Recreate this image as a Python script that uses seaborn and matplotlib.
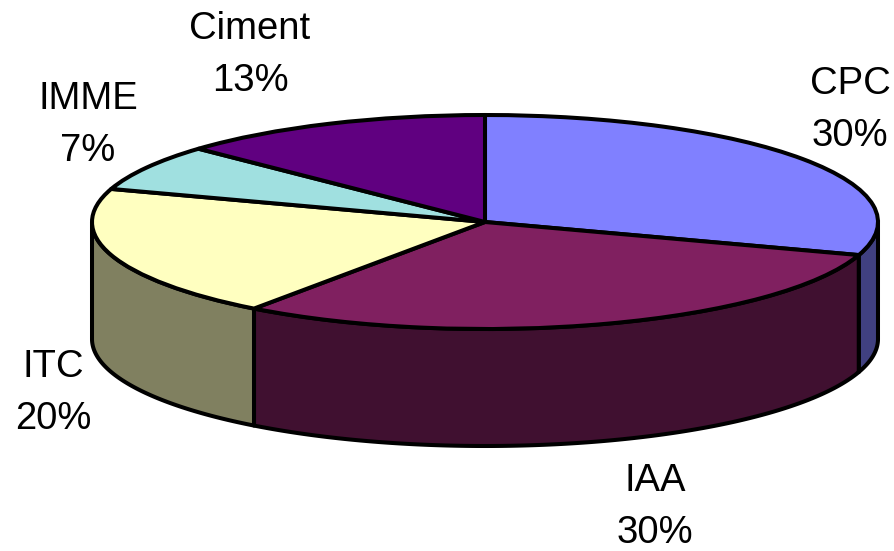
import numpy as np
import matplotlib
matplotlib.use("Agg")
import matplotlib.pyplot as plt
import seaborn as sns

categories = ["CPC", "IAA", "ITC", "IMME", "Ciment"]
shares = [30, 30, 20, 7, 13]
top_colors = ["#8080FF", "#802060", "#FFFFC0", "#A0E0E0", "#600080"]
side_colors = ["#404080", "#401030", "#808060", "#508080", "#300040"]

W, H = 895, 551
CX, CY, RX, RY = 485, 222, 393, 107
DEPTH = 117 / RY  # wall height in pie radius units

sns.set_theme(style="white")
plt.rcParams["font.family"] = ["Liberation Sans", "DejaVu Sans"]

fig = plt.figure(figsize=(W / 100, H / 100), dpi=100)
ax = fig.add_axes([0, 0, 1, 1])

# top face of the disc, flattened by the axis limits
wedges, _ = ax.pie(shares, colors=top_colors, startangle=90, counterclock=False,
                   wedgeprops=dict(edgecolor="black", linewidth=2.9, joinstyle="round", zorder=3))

ax.set_aspect("auto")
ax.set_xlim(-CX / RX, (W - CX) / RX)
ax.set_ylim((CY - H) / RY, CY / RY)

# front wall, only the part of each wedge under the horizontal
for w, col in zip(wedges, side_colors):
    t1, t2 = w.theta1 % 360, w.theta2 % 360
    if t2 <= t1:
        t2 += 360
    t = np.radians(np.linspace(t1, t2, 200))
    t = t[np.sin(t) <= 0]
    if len(t) == 0:
        continue
    x = np.cos(t)
    y = np.sin(t)
    ax.fill(np.r_[x, x[::-1]], np.r_[y, y[::-1] - DEPTH], facecolor=col,
            edgecolor="black", linewidth=2.9, joinstyle="round", zorder=2)

# labels
label_px = [(850, 110), (655, 507), (53, 393), (88, 125), (250, 55)]
for name, val, (px, py) in zip(categories, shares, label_px):
    ax.text((px - CX) / RX, (CY - py) / RY, f"{name}\n{val}%", ha="center", va="center",
            fontsize=27.5, color="black", linespacing=1.58, zorder=5)

fig.savefig("out.png", dpi=100)
